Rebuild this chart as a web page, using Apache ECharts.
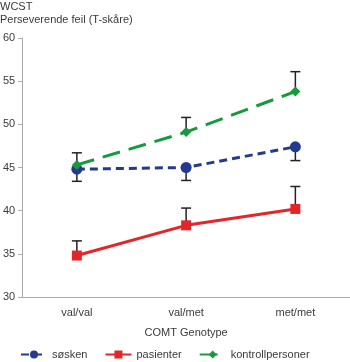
<!DOCTYPE html>
<html>
<head>
<meta charset="utf-8">
<script src="https://cdn.jsdelivr.net/npm/echarts@6/dist/echarts.min.js"></script>
<style>
    html, body { margin: 0; padding: 0; background: #fff; }
    #chart { width: 350px; height: 362px; }
</style>
</head>
<body>
<div id="chart"></div>
<script>
    let categories = ['val/val', 'val/met', 'met/met'];

    // gjennomsnitt
    let soskenValues = [44.8, 45.0, 47.4];
    let pasienterValues = [34.8, 38.3, 40.2];
    let kontrollValues = [45.3, 49.1, 53.8];

    // feilstolper (ende av stolpen)
    let soskenLower = [43.4, 43.5, 45.8];
    let pasienterUpper = [36.5, 40.3, 42.8];
    let kontrollUpper = [46.7, 50.8, 56.1];

    let yTicks = [30, 35, 40, 45, 50, 55, 60];

    let fontFamily = 'Liberation Sans, Arial, sans-serif';
    let textColor = '#3a3a3a';

    let chart = echarts.init(document.getElementById('chart'));

    function errorData(values, ends) {
        let data = [];
        for (let i = 0; i < values.length; i++) {
            data.push([i, values[i], ends[i]]);
        }
        return data;
    }

    function renderError(params, api) {
        let p1 = api.coord([api.value(0), api.value(1)]);
        let p2 = api.coord([api.value(0), api.value(2)]);
        let half = 5;
        let style = {stroke: '#222', lineWidth: 1.5};
        return {
            type: 'group',
            children: [
                {type: 'line', shape: {x1: p1[0], y1: p1[1], x2: p2[0], y2: p2[1]}, style: style},
                {type: 'line', shape: {x1: p2[0] - half, y1: p2[1], x2: p2[0] + half, y2: p2[1]}, style: style}
            ]
        };
    }

    let option = {
        animation: false,
        graphic: [
            {type: 'text', left: 0, top: 1, style: {text: 'WCST', font: '11px ' + fontFamily, fill: textColor}},
            {type: 'text', left: 0, top: 14, style: {text: 'Perseverende feil (T-skåre)', font: '11px ' + fontFamily, fill: textColor}}
        ],
        legend: {
            top: 349,
            left: 20,
            padding: 0,
            itemWidth: 26,
            itemHeight: 10,
            itemGap: 17,
            textStyle: {fontFamily: fontFamily, fontSize: 11, color: textColor},
            data: ['søsken', 'pasienter', 'kontrollpersoner']
        },
        grid: {
            left: 21,
            right: 0,
            top: 38,
            bottom: 65
        },
        xAxis: {
            type: 'category',
            data: categories,
            boundaryGap: true,
            name: 'COMT Genotype',
            nameLocation: 'middle',
            nameGap: 30,
            nameTextStyle: {fontFamily: fontFamily, fontSize: 11, color: textColor},
            axisLine: {lineStyle: {color: '#aaa'}},
            axisTick: {alignWithLabel: true, length: 3, lineStyle: {color: '#aaa'}},
            axisLabel: {margin: 10, fontFamily: fontFamily, fontSize: 11, color: textColor}
        },
        yAxis: {
            type: 'value',
            min: yTicks[0],
            max: yTicks[yTicks.length - 1],
            interval: 5,
            splitLine: {show: false},
            axisLine: {show: true, lineStyle: {color: '#aaa'}},
            axisTick: {show: true, length: 4, lineStyle: {color: '#aaa'}},
            axisLabel: {margin: 7, fontFamily: fontFamily, fontSize: 11, color: textColor}
        },
        series: [
            {
                name: 'søsken',
                type: 'line',
                data: soskenValues,
                symbol: 'circle',
                symbolSize: 11,
                z: 3,
                itemStyle: {color: '#233a8f'},
                lineStyle: {width: 3, type: [8, 5], color: '#233a8f'}
            },
            {
                name: 'pasienter',
                type: 'line',
                data: pasienterValues,
                symbol: 'rect',
                symbolSize: 10,
                z: 3,
                itemStyle: {color: '#e3262a'},
                lineStyle: {width: 3, color: '#e3262a'}
            },
            {
                name: 'kontrollpersoner',
                type: 'line',
                data: kontrollValues,
                symbol: 'diamond',
                symbolSize: 10,
                z: 4,
                itemStyle: {color: '#179a3d'},
                lineStyle: {width: 3, type: [18, 9], color: '#179a3d'}
            },
            {type: 'custom', renderItem: renderError, data: errorData(soskenValues, soskenLower), z: 2, silent: true},
            {type: 'custom', renderItem: renderError, data: errorData(pasienterValues, pasienterUpper), z: 2, silent: true},
            {type: 'custom', renderItem: renderError, data: errorData(kontrollValues, kontrollUpper), z: 2, silent: true}
        ]
    };

    chart.setOption(option);
</script>
</body>
</html>
